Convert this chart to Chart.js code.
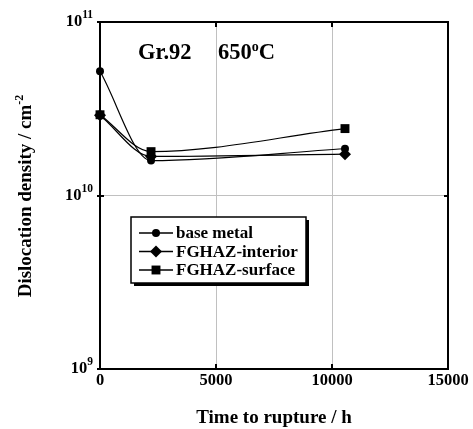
<!DOCTYPE html>
<html><head><meta charset="utf-8">
<script src="https://cdn.jsdelivr.net/npm/chart.js@4"></script>
<style>html,body{margin:0;padding:0;background:#fff}</style>
</head><body>
<canvas id="c" width="473" height="429"></canvas>
<script>
const times = [0, 2200, 10560];
const baseMetal = [5.2e10, 1.59e10, 1.86e10];
const fghazInterior = [2.9e10, 1.68e10, 1.73e10];
const fghazSurface = [2.92e10, 1.79e10, 2.43e10];
const seriesNames = ['base metal', 'FGHAZ-interior', 'FGHAZ-surface'];
const xTicks = [0, 5000, 10000, 15000];
const yTicks = [1e9, 1e10, 1e11];
const chartTitleA = 'Gr.92';
const chartTitleB = '650';
const xTitle = 'Time to rupture / h';
const yTitle = 'Dislocation density / cm';

const FONT = '"Liberation Serif", "Times New Roman", serif';
const styles = [
  {pointStyle: 'circle', r: 4},
  {pointStyle: 'rectRot', r: 6},
  {pointStyle: 'rect', r: 6.3}
];
const seriesData = [baseMetal, fghazInterior, fghazSurface];

const datasets = seriesData.map((vals, i) => ({
  label: seriesNames[i],
  data: times.map((t, j) => ({x: t, y: vals[j]})),
  borderColor: '#000',
  backgroundColor: '#000',
  borderWidth: 1.2,
  pointStyle: styles[i].pointStyle,
  pointRadius: styles[i].r,
  pointBorderWidth: 0,
  pointBackgroundColor: '#000',
  tension: 0.4,
  cubicInterpolationMode: 'monotone',
  fill: false,
  clip: false
}));

function drawMarker(ctx, style, x, y, r) {
  ctx.beginPath();
  if (style === 'circle') {
    ctx.arc(x, y, r, 0, Math.PI * 2);
  } else if (style === 'rectRot') {
    ctx.moveTo(x, y - r); ctx.lineTo(x + r, y); ctx.lineTo(x, y + r); ctx.lineTo(x - r, y); ctx.closePath();
  } else {
    const s = r * Math.SQRT1_2;
    ctx.rect(x - s, y - s, 2 * s, 2 * s);
  }
  ctx.fill();
}

const framePlugin = {
  id: 'frame',
  beforeDatasetsDraw(chart) {
    const ctx = chart.ctx;
    const {left, right, top, bottom} = chart.chartArea;
    const xs = chart.scales.x, ys = chart.scales.y;
    ctx.save();
    ctx.strokeStyle = '#000';
    ctx.lineWidth = 2;
    ctx.strokeRect(left, top, right - left, bottom - top);
    xTicks.forEach(v => {
      const px = Math.round(xs.getPixelForValue(v));
      ctx.beginPath();
      ctx.moveTo(px, top); ctx.lineTo(px, top + 5);
      ctx.moveTo(px, bottom); ctx.lineTo(px, bottom - 5);
      ctx.stroke();
    });
    yTicks.forEach(v => {
      const py = Math.round(ys.getPixelForValue(v));
      ctx.beginPath();
      ctx.moveTo(left - 3, py); ctx.lineTo(left + 4, py);
      ctx.moveTo(right, py); ctx.lineTo(right - 4, py);
      ctx.stroke();
    });
    ctx.restore();
  },
  afterDraw(chart) {
    const ctx = chart.ctx;
    const ys = chart.scales.y;
    ctx.save();
    ctx.fillStyle = '#000';
    yTicks.forEach(v => {
      const py = ys.getPixelForValue(v);
      const e = String(Math.round(Math.log10(v)));
      ctx.font = 'bold 11.5px ' + FONT;
      const we = ctx.measureText(e).width;
      ctx.textAlign = 'left';
      ctx.textBaseline = 'alphabetic';
      const xEnd = 93;
      ctx.fillText(e, xEnd - we, py - 4);
      ctx.font = 'bold 16.5px ' + FONT;
      ctx.textAlign = 'right';
      ctx.fillText('10', xEnd - we, py + 4);
    });
    ctx.textAlign = 'left';
    ctx.textBaseline = 'alphabetic';
    ctx.font = 'bold 22.5px ' + FONT;
    ctx.fillText(chartTitleA, 138, 59);
    ctx.fillText(chartTitleB, 218, 59);
    let w = ctx.measureText(chartTitleB).width;
    ctx.font = 'bold 14px ' + FONT;
    ctx.fillText('o', 218 + w, 51);
    const wo = ctx.measureText('o').width;
    ctx.font = 'bold 22.5px ' + FONT;
    ctx.fillText('C', 218 + w + wo, 59);
    ctx.save();
    ctx.translate(31, 196);
    ctx.rotate(-Math.PI / 2);
    ctx.font = 'bold 19px ' + FONT;
    const wt = ctx.measureText(yTitle).width;
    ctx.font = 'bold 12px ' + FONT;
    const ws = ctx.measureText('-2').width;
    const total = wt + ws;
    ctx.font = 'bold 19px ' + FONT;
    ctx.textAlign = 'left';
    ctx.fillText(yTitle, -total / 2, 0);
    ctx.font = 'bold 12px ' + FONT;
    ctx.fillText('-2', -total / 2 + wt, -8);
    ctx.restore();
    const bx = 131, by = 217, bw = 175, bh = 66;
    ctx.fillStyle = '#000';
    ctx.fillRect(bx + 3, by + 3, bw, bh);
    ctx.fillStyle = '#fff';
    ctx.fillRect(bx, by, bw, bh);
    ctx.strokeStyle = '#000';
    ctx.lineWidth = 1.5;
    ctx.strokeRect(bx, by, bw, bh);
    const rows = [233, 251.5, 270];
    ctx.font = 'bold 17px ' + FONT;
    ctx.textBaseline = 'middle';
    ctx.textAlign = 'left';
    datasets.forEach((ds, i) => {
      const y = rows[i];
      ctx.strokeStyle = '#000';
      ctx.lineWidth = 1.5;
      ctx.beginPath(); ctx.moveTo(139, y); ctx.lineTo(173, y); ctx.stroke();
      ctx.fillStyle = '#000';
      drawMarker(ctx, ds.pointStyle, 156, y, ds.pointRadius);
      ctx.fillText(ds.label, 176, y + 1);
    });
    ctx.restore();
  }
};

new Chart(document.getElementById('c'), {
  type: 'line',
  data: {datasets},
  options: {
    responsive: false,
    animation: false,
    layout: {padding: {top: 22, right: 25, left: 0, bottom: 0}},
    plugins: {legend: {display: false}, tooltip: {enabled: false}},
    scales: {
      x: {
        type: 'linear', min: 0, max: 15000,
        afterBuildTicks: s => { s.ticks = xTicks.map(v => ({value: v})); },
        ticks: {font: {family: FONT, size: 16.5, weight: 'bold'}, color: '#000', padding: 2, maxRotation: 0, autoSkip: false,
                callback: v => String(v)},
        grid: {color: '#c0c0c0', lineWidth: 1, drawTicks: false},
        border: {display: false},
        title: {display: true, text: xTitle, font: {family: FONT, size: 19, weight: 'bold'}, color: '#000', padding: {top: 0, bottom: 0}},
        afterFit: s => { s.height = 60; }
      },
      y: {
        type: 'logarithmic', min: 1e9, max: 1e11,
        afterBuildTicks: s => { s.ticks = yTicks.map(v => ({value: v})); },
        ticks: {display: false},
        grid: {color: '#c0c0c0', lineWidth: 1, drawTicks: false},
        border: {display: false},
        afterFit: s => { s.width = 100; }
      }
    }
  },
  plugins: [framePlugin]
});
</script>
</body></html>
